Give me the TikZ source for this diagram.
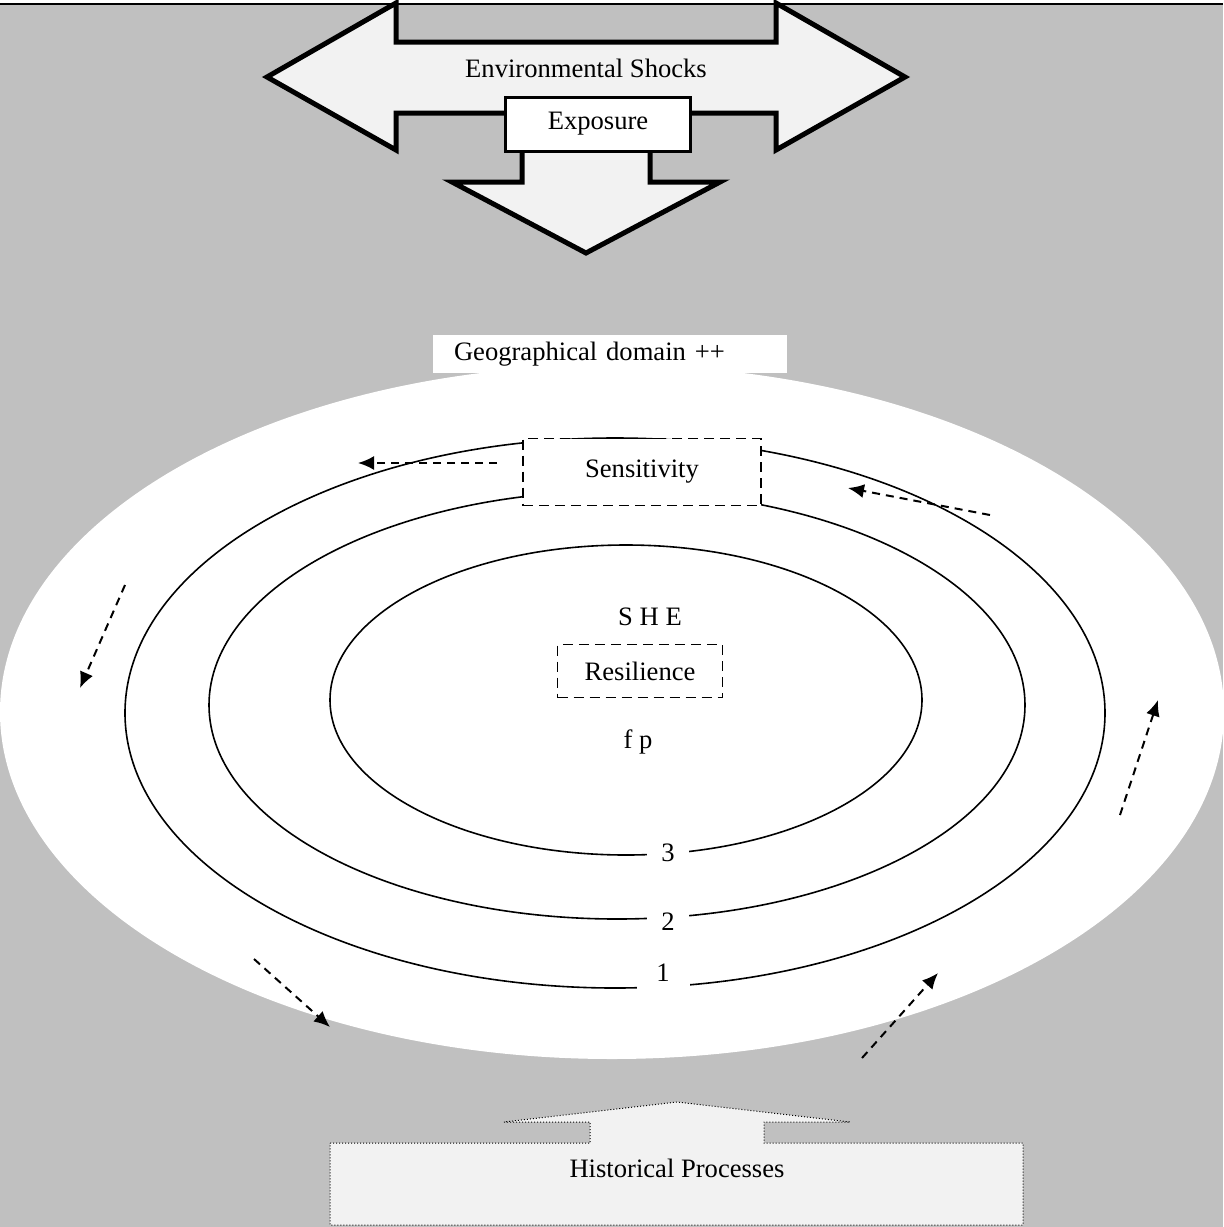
\documentclass[tikz,border=0pt]{standalone}
\usepackage{fontspec}
\setmainfont{Liberation Serif}
\usetikzlibrary{shapes.geometric, arrows.meta}
\definecolor{bggray}{RGB}{192,192,192}
\definecolor{shockfill}{RGB}{242,242,242}
\tikzstyle{bigarrow} = [draw=black,
line width=2.5pt,
line join=miter,
fill=shockfill]
\tikzstyle{ring} = [ellipse,
draw=black,
line width=0.8pt,
inner sep=0pt]
\tikzstyle{dashbox} = [rectangle,
draw=black,
fill=white,
line width=0.8pt,
dash pattern=on 5pt off 3pt]
\tikzstyle{ringlabel} = [fill=white,
anchor=base,
inner xsep=0pt,
inner ysep=1pt,
text height=9pt,
text depth=6pt,
minimum width=21pt]
\tikzstyle{flow} = [line width=1pt,
dash pattern=on 4pt off 3pt,
-{Latex[length=8pt,width=7pt]}]

\begin{document}
\begin{tikzpicture}[x=0.5pt, y=-0.5pt, font=\fontsize{13.3}{16}\selectfont]
\useasboundingbox (0,0) rectangle (1223,1227);
\fill [bggray] (0,4) rectangle (1223,1227);
\draw [line width=1pt] (0,4) -- (1223,4);

% exposure
\draw [bigarrow] (267,77) -- (396,3) -- (396,42) -- (776,42) -- (776,3) -- (905,77)
  -- (776,150) -- (776,113) -- (396,113) -- (396,150) -- cycle;
\draw [bigarrow] (522,140) -- (650,140) -- (650,182) -- (720,182) -- (586,253)
  -- (452,182) -- (522,182) -- cycle;
\node (shocks) at (586,68) {Environmental Shocks};
\node (exposure) [rectangle, draw=black, line width=1.5pt, fill=white,
  minimum width=92.5pt, minimum height=27pt] at (598,124) {Exposure};

% domain
\node (domain) [ellipse, fill=white, minimum width=612pt, minimum height=347pt] at (612,712) {};
\node (geo) [rectangle, fill=white, text width=156pt, inner xsep=10.5pt,
  minimum height=18.5pt, align=left] at (610,354) {Geographical domain ++};

\node (ring1) [ring, minimum width=490pt, minimum height=275pt] at (615,713) {};
\node (ring2) [ring, minimum width=408pt, minimum height=214pt] at (617,705) {};
\node (ring3) [ring, minimum width=296pt, minimum height=155pt] at (626,700) {};

\node (sens) [dashbox, minimum width=119pt, minimum height=33.5pt] at (642,472) {Sensitivity};
\node (lab3) [ringlabel] at (668,861) {3};
\node (lab2) [ringlabel] at (668,930) {2};
\node (lab1) [ringlabel, minimum width=26.5pt] at (663,981) {1};

\node (she) at (650,617) {S H E};
\node (res) [dashbox, minimum width=82.5pt, minimum height=26.5pt] at (640,671) {Resilience};
\node (fp) at (638,742) {f p};

% feedback arrows
\coordinate (a1) at (497,463);
\coordinate (b1) at (358,463);
\coordinate (a2) at (125,585);
\coordinate (b2) at (80,688);
\coordinate (a3) at (254,959);
\coordinate (b3) at (330,1027);
\coordinate (a4) at (862,1058);
\coordinate (b4) at (938,973);
\coordinate (a5) at (1120,815);
\coordinate (b5) at (1158,700);
\coordinate (a6) at (990,515);
\coordinate (b6) at (848,488);
\foreach \i in {1,...,6}
  \draw [flow] (a\i) -- (b\i);

% history
\draw [densely dotted, line width=0.5pt, fill=shockfill] (330,1143) -- (590,1143) -- (590,1122)
  -- (504,1122) -- (677,1102) -- (850,1122) -- (764,1122) -- (764,1143) -- (1023,1143)
  -- (1023,1225) -- (330,1225) -- cycle;
\node (hist) at (677,1168) {Historical Processes};

\end{tikzpicture}
\end{document}
